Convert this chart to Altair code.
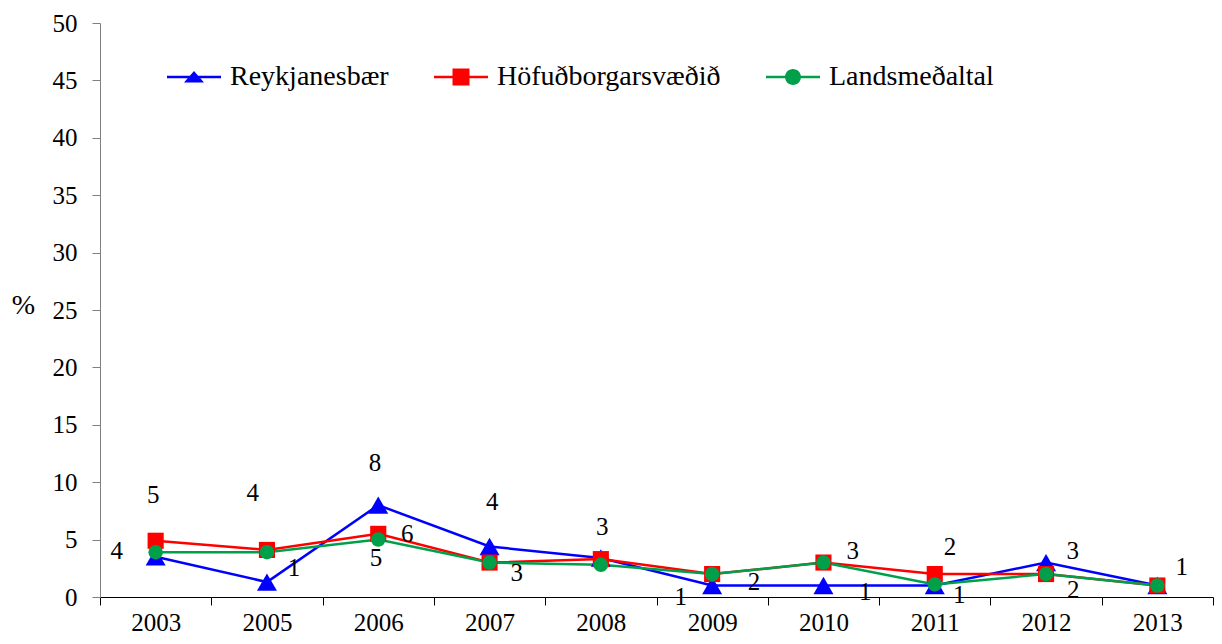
import altair as alt
import pandas as pd

years = ["2003", "2005", "2006", "2007", "2008", "2009", "2010", "2011", "2012", "2013"]
series = ["Reykjanesbær", "Höfuðborgarsvæðið", "Landsmeðaltal"]
reykjanesbaer = [3.5, 1.3, 8.0, 4.4, 3.4, 1.0, 1.0, 1.0, 3.0, 1.0]
hofudborgarsvaedid = [4.9, 4.1, 5.5, 3.0, 3.3, 2.0, 3.0, 2.0, 2.0, 1.0]
landsmedaltal = [3.9, 3.9, 5.0, 3.0, 2.8, 2.0, 3.0, 1.1, 2.0, 1.0]

# data labels as they appear in the original chart
label_years = ["2003", "2003", "2005", "2005", "2006", "2006", "2006", "2007", "2007", "2008",
               "2009", "2009", "2010", "2010", "2011", "2011", "2012", "2012", "2013"]
label_texts = ["5", "4", "4", "1", "8", "6", "5", "4", "3", "3",
               "1", "2", "3", "1", "2", "1", "3", "2", "1"]
label_values = [8.88, 4.0, 9.03, 2.5, 11.7, 5.46, 3.43, 8.3, 2.12, 6.12,
                0.03, 1.33, 4.03, 0.46, 4.33, 0.17, 4.0, 0.61, 2.59]
label_shift = [-2.4, -39, -14.3, 27, -3.3, 29, -2.3, 2.7, 27.1, 1.4,
               -31.5, 41.8, 29.2, 41.8, 15.2, 24.5, 26.6, 27.2, 24.3]

colors = ["#0000FF", "#FF0000", "#00A04A"]
shapes = ["triangle-up", "square", "circle"]
sizes = [400, 260, 210]
legend_paths = [
    "M-2.7,-0.13H2.7V0.13H-2.7Z M-1,0.55L0,-0.6L1,0.55Z",
    "M-2.7,-0.13H2.7V0.13H-2.7Z M-0.85,-0.85H0.85V0.85H-0.85Z",
    "M-2.7,-0.13H2.7V0.13H-2.7Z M-0.8,0A0.8,0.8,0,1,1,0.8,0A0.8,0.8,0,1,1,-0.8,0Z",
]

values = [reykjanesbaer, hofudborgarsvaedid, landsmedaltal]
rows = []
for s, vals in zip(series, values):
    for y, v in zip(years, vals):
        rows.append({"year": y, "series": s, "value": v})
df = pd.DataFrame(rows)

labels_df = pd.DataFrame({"year": label_years, "text": label_texts,
                          "pos": label_values, "shift": label_shift})
legend_df = pd.DataFrame({"series": series})

FONT = "Liberation Serif, Times New Roman, Times, DejaVu Serif, serif"
band = 1113 / len(years)

x_enc = alt.X("year:N", sort=years,
              scale=alt.Scale(domain=years, paddingInner=0, paddingOuter=0),
              axis=alt.Axis(title=None, tickBand="extent", labelAngle=0, domainColor="#000000",
                            tickColor="#000000", tickSize=8, labelFontSize=25, labelPadding=5,
                            labelColor="#000000", labelFont=FONT, domainWidth=1, tickWidth=1))
y_enc = alt.Y("value:Q",
              scale=alt.Scale(domain=[0, 50], nice=False),
              axis=alt.Axis(values=list(range(0, 55, 5)), grid=False, domainColor="#808080",
                            tickColor="#808080", tickSize=8, labelFontSize=25, labelPadding=15,
                            labelColor="#000000", labelFont=FONT, title="%", titleAngle=0,
                            titleFontSize=28, titleFont=FONT, titleFontWeight="normal",
                            titleColor="#000000", titleX=-77, titleY=282,
                            titleBaseline="middle", titleAlign="center"))

layers = []
for s, c in zip(series, colors):
    base = alt.Chart(df).transform_filter(alt.datum.series == s)
    layers.append(base.mark_line(strokeWidth=2.5, color=c).encode(x=x_enc, y=y_enc))
for s, c, sh, sz in zip(series, colors, shapes, sizes):
    base = alt.Chart(df).transform_filter(alt.datum.series == s)
    layers.append(base.mark_point(filled=True, opacity=1, color=c, shape=sh, size=sz)
                  .encode(x=x_enc, y=y_enc))

text_layer = alt.Chart(labels_df).mark_text(font=FONT, fontSize=25, color="#000000",
                                            baseline="middle", align="center").encode(
    x=alt.X("year:N", sort=years),
    xOffset=alt.XOffset("shift:Q", scale=alt.Scale(domain=[-band / 2, band / 2])),
    y=alt.Y("pos:Q"),
    text="text:N",
)
layers.append(text_layer)

leg = alt.Legend(title=None, orient="none", direction="horizontal", legendX=80, legendY=40,
                 labelFont=FONT, labelFontSize=28, labelColor="#000000", labelLimit=400,
                 symbolSize=400, symbolStrokeWidth=0, labelOffset=22, columnPadding=45,
                 symbolOpacity=1)
legend_layer = alt.Chart(legend_df).mark_point(filled=True, opacity=1).encode(
    x=alt.value(-3000), y=alt.value(-3000),
    color=alt.Color("series:N", scale=alt.Scale(domain=series, range=colors), legend=leg),
    shape=alt.Shape("series:N", scale=alt.Scale(domain=series, range=legend_paths), legend=leg),
)
layers.append(legend_layer)

chart = alt.layer(*layers).properties(
    width=1113, height=574,
    padding={"left": 92, "top": 15, "right": 1, "bottom": 39},
    autosize="none",
    background="#FFFFFF",
).configure_view(stroke=None)

chart.save("out.html", embed_options={"renderer": "svg", "actions": False})
